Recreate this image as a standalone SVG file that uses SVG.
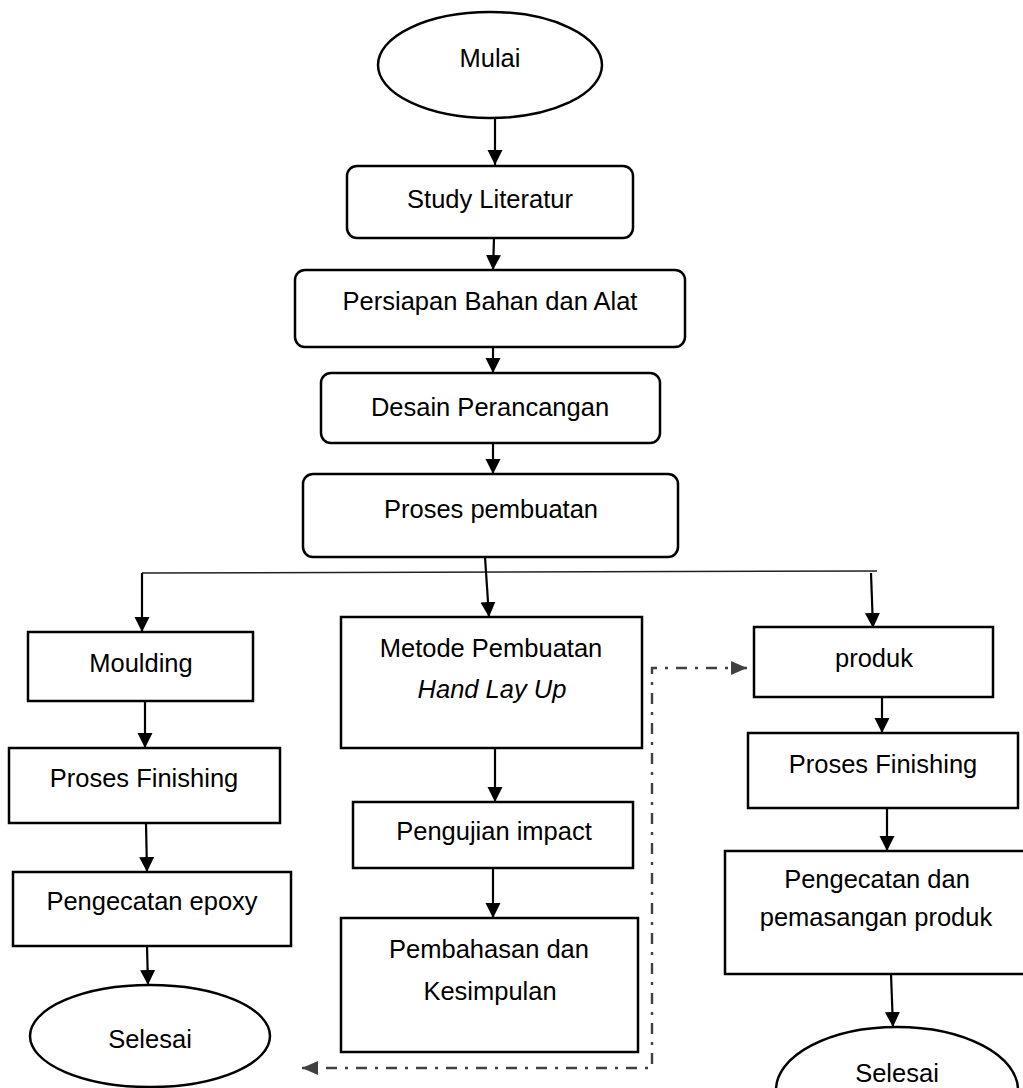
<svg xmlns="http://www.w3.org/2000/svg" width="1023" height="1088" viewBox="0 0 1023 1088">
<style>
.box{fill:#fff;stroke:#000;stroke-width:2.5}
.t{font-family:"Liberation Sans",Arial,sans-serif;font-size:25.5px;fill:#000;text-anchor:middle}
.c{fill:none;stroke:#000;stroke-width:2.2}
.thin{fill:none;stroke:#222;stroke-width:1.5}
.dash{fill:none;stroke:#404040;stroke-width:2.4;stroke-dasharray:11 8 3 8}
</style>
<defs>
<marker id="arr" markerUnits="userSpaceOnUse" markerWidth="16" markerHeight="16" viewBox="0 0 16 16" refX="15" refY="8" orient="auto"><path d="M0,0.5 L15,8 L0,15.5 z" fill="#000"/></marker>
<marker id="garr" markerUnits="userSpaceOnUse" markerWidth="16" markerHeight="16" viewBox="0 0 16 16" refX="16" refY="8" orient="auto-start-reverse"><path d="M0,1 L16,8 L0,15 z" fill="#404040"/></marker>
</defs>
<rect width="1023" height="1088" fill="#fff"/>
<g id="connectors">
<path class="c" d="M495,118 L495,165" marker-end="url(#arr)"/>
<path class="c" d="M494,238 L493,270" marker-end="url(#arr)"/>
<path class="c" d="M493,347 L493,373" marker-end="url(#arr)"/>
<path class="c" d="M493,443 L493,474" marker-end="url(#arr)"/>
<path class="thin" d="M142,573 L877,571"/>
<path class="c" d="M485,557 L489,617" marker-end="url(#arr)"/>
<path class="c" d="M142,573 L142,632" marker-end="url(#arr)"/>
<path class="c" d="M871,573 L873,628" marker-end="url(#arr)"/>
<path class="c" d="M145,701 L145,748" marker-end="url(#arr)"/>
<path class="c" d="M146,823 L147,872" marker-end="url(#arr)"/>
<path class="c" d="M147,946 L148,985" marker-end="url(#arr)"/>
<path class="c" d="M495,748 L495,802" marker-end="url(#arr)"/>
<path class="c" d="M493,868 L493,918" marker-end="url(#arr)"/>
<path class="c" d="M882,697 L882,733" marker-end="url(#arr)"/>
<path class="c" d="M887,808 L887,851" marker-end="url(#arr)"/>
<path class="c" d="M891,974 L893,1027" marker-end="url(#arr)"/>
<path class="dash" d="M747,668 L652,668 L652,1068 L302,1068" marker-start="url(#garr)" marker-end="url(#garr)"/>
</g>
<g id="mulai"><ellipse class="box" cx="490" cy="65" rx="112" ry="53"/><text class="t" x="490" y="67">Mulai</text></g>
<g id="study"><rect class="box" x="347" y="166" width="286" height="72" rx="10"/><text class="t" x="490" y="208">Study Literatur</text></g>
<g id="persiapan"><rect class="box" x="295" y="270" width="390" height="77" rx="10"/><text class="t" x="490" y="310">Persiapan Bahan dan Alat</text></g>
<g id="desain"><rect class="box" x="321" y="373" width="339" height="70" rx="10"/><text class="t" x="490" y="416">Desain Perancangan</text></g>
<g id="proses"><rect class="box" x="303" y="474" width="375" height="83" rx="10"/><text class="t" x="491" y="518">Proses pembuatan</text></g>
<g id="moulding"><rect class="box" x="28" y="632" width="225" height="69"/><text class="t" x="141" y="672">Moulding</text></g>
<g id="finishing-kiri"><rect class="box" x="9" y="748" width="271" height="75"/><text class="t" x="144" y="787">Proses Finishing</text></g>
<g id="epoxy"><rect class="box" x="13" y="872" width="278" height="74"/><text class="t" x="152" y="910">Pengecatan epoxy</text></g>
<g id="selesai-kiri"><ellipse class="box" cx="150" cy="1036" rx="120" ry="51"/><text class="t" x="150" y="1048">Selesai</text></g>
<g id="metode"><rect class="box" x="341" y="617" width="301" height="131"/><text class="t" x="491" y="657">Metode Pembuatan</text><text class="t" x="492" y="698" font-style="italic">Hand Lay Up</text></g>
<g id="pengujian"><rect class="box" x="353" y="802" width="280" height="66"/><text class="t" x="494" y="840">Pengujian impact</text></g>
<g id="pembahasan"><rect class="box" x="341" y="918" width="297" height="134"/><text class="t" x="489" y="958">Pembahasan dan</text><text class="t" x="490" y="1000">Kesimpulan</text></g>
<g id="produk"><rect class="box" x="754" y="627" width="239" height="70"/><text class="t" x="874" y="667">produk</text></g>
<g id="finishing-kanan"><rect class="box" x="748" y="733" width="270" height="75"/><text class="t" x="883" y="773">Proses Finishing</text></g>
<g id="pengecatan"><rect class="box" x="725" y="851" width="305" height="123"/><text class="t" x="877" y="888">Pengecatan dan</text><text class="t" x="876" y="926">pemasangan produk</text></g>
<g id="selesai-kanan"><ellipse class="box" cx="897" cy="1090" rx="121" ry="63"/><text class="t" x="897" y="1082">Selesai</text></g>
</svg>
